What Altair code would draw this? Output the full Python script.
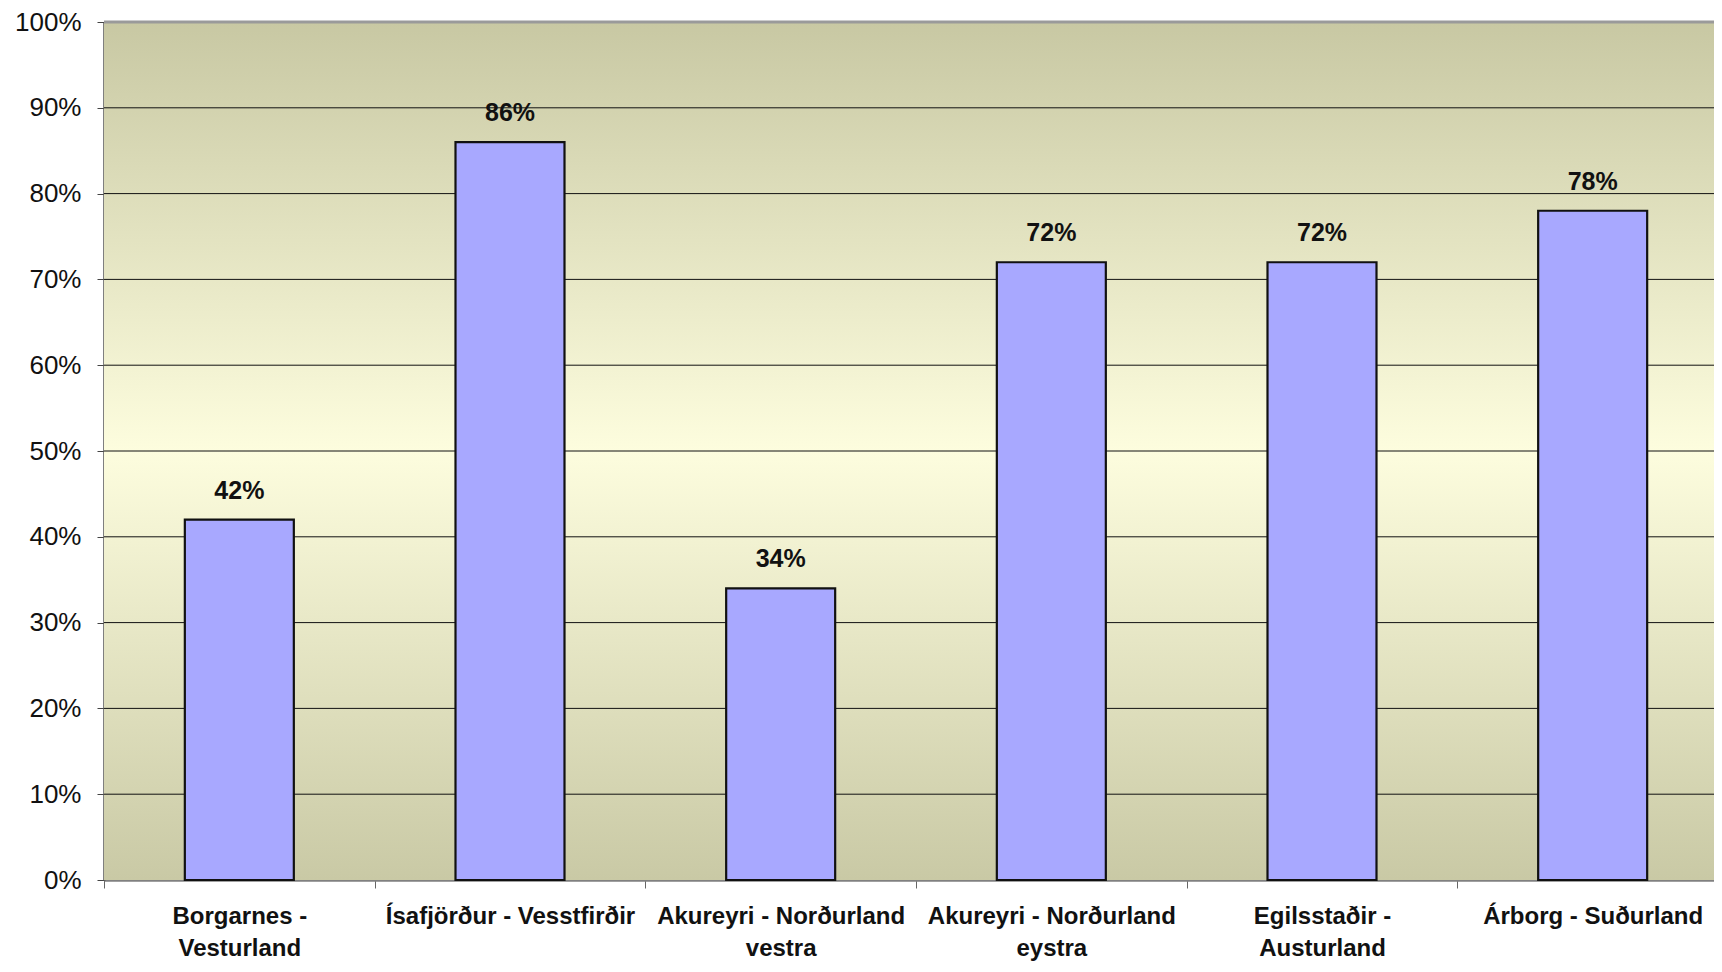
import altair as alt
import pandas as pd

categories = [
    "Borgarnes -\nVesturland",
    "Ísafjörður - Vesstfirðir",
    "Akureyri - Norðurland\nvestra",
    "Akureyri - Norðurland\neystra",
    "Egilsstaðir -\nAusturland",
    "Árborg - Suðurland",
]
values = [0.42, 0.86, 0.34, 0.72, 0.72, 0.78]
labels = ["42%", "86%", "34%", "72%", "72%", "78%"]
y_ticks = [0.0, 0.1, 0.2, 0.3, 0.4, 0.5, 0.6, 0.7, 0.8, 0.9, 1.0]
grid_vals = [0.1, 0.2, 0.3, 0.4, 0.5, 0.6, 0.7, 0.8, 0.9]
top_val = [1.0]

W, H = 1610, 858      # visible plot area (canvas must fit inside the window)
XR = 1624             # full category range of the reference (runs past the window edge)
FONT = "Liberation Sans"

df = pd.DataFrame({"cat": categories, "value": values, "label": labels})
bg = pd.DataFrame({"lo": [0.0], "hi": [1.0]})
grid_df = pd.DataFrame({"g": grid_vals})
top_df = pd.DataFrame({"t": top_val})

yscale = alt.Scale(domain=[0, 1], nice=False, zero=True)
xscale = alt.Scale(paddingInner=0, paddingOuter=0, range=[0, XR])

background = alt.Chart(bg).mark_rect(
    fill=alt.Gradient(
        gradient="linear",
        x1=0, x2=0, y1=0, y2=1,
        stops=[
            alt.GradientStop(offset=0, color="#C8C8A3"),
            alt.GradientStop(offset=0.5, color="#FDFDDE"),
            alt.GradientStop(offset=1, color="#C9C9A5"),
        ],
    ),
    stroke=None,
).encode(
    y=alt.Y("hi:Q", scale=yscale, title=None,
            axis=alt.Axis(values=y_ticks, format="%", grid=False,
                          labelFont=FONT, labelFontSize=26,
                          labelColor="#111111", labelPadding=16,
                          tickSize=7, tickColor="#444444", tickWidth=1,
                          domainColor="#555555", domainWidth=2.5)),
    y2="lo:Q",
    x=alt.value(0),
    x2=alt.value(XR),
)

grid = alt.Chart(grid_df).mark_rule(color="#111111", strokeWidth=1).encode(
    y=alt.Y("g:Q", scale=yscale, title=None),
    x=alt.value(0),
    x2=alt.value(XR),
)

top = alt.Chart(top_df).mark_rule(color="#9a9a9a", strokeWidth=3).encode(
    y=alt.Y("t:Q", scale=yscale, title=None),
    x=alt.value(0),
    x2=alt.value(XR),
)

bars = alt.Chart(df).mark_bar(
    size=109, color="#A8A8FF", stroke="#111111", strokeWidth=2.2
).encode(
    x=alt.X("cat:N", sort=categories, scale=xscale, title=None,
            axis=alt.Axis(labelAngle=0, tickBand="extent",
                          labelExpr="split(datum.label, '\\n')",
                          labelFont=FONT, labelFontSize=24, labelFontWeight="bold",
                          labelColor="#111111", labelPadding=16, labelLineHeight=32,
                          labelBaseline="top", labelLimit=400,
                          tickSize=8, tickColor="#666666", tickWidth=1,
                          domainColor="#808080", domainWidth=2.5)),
    y=alt.Y("value:Q", scale=yscale, title=None),
)

text = alt.Chart(df).mark_text(
    font=FONT, fontSize=25, fontWeight="bold", color="#111111",
    baseline="alphabetic", dy=-21,
).encode(
    x=alt.X("cat:N", sort=categories, scale=xscale, title=None),
    y=alt.Y("value:Q", scale=yscale, title=None),
    text="label:N",
)

chart = alt.layer(background, grid, top, bars, text).properties(
    width=W, height=H,
    autosize=alt.AutoSizeParams(type="none"),
    padding={"left": 96, "top": 14, "right": 0, "bottom": 83},
).configure_view(stroke=None).configure(background="white")

chart.save("out.html", embed_options={"renderer": "svg", "actions": False})
